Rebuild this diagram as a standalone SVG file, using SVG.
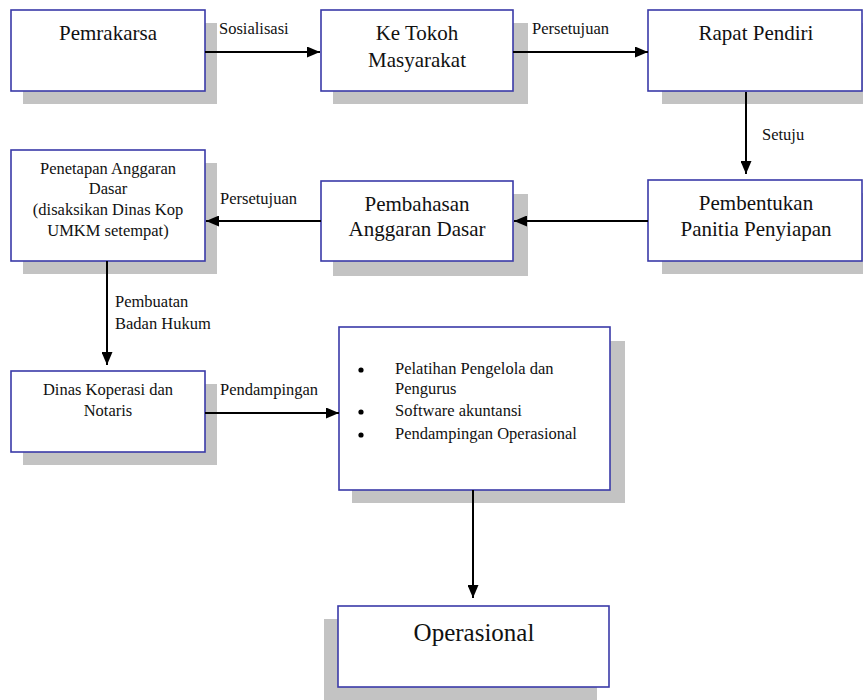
<svg xmlns="http://www.w3.org/2000/svg" width="863" height="700" viewBox="0 0 863 700" font-family="Liberation Serif, DejaVu Serif, serif">
<style>
.box{fill:#fff;stroke:#3a3aa8;stroke-width:1.6}
.sh{fill:#c3c3c3}
text{font-family:"Liberation Serif","DejaVu Serif",serif;fill:#111}
.t{text-anchor:middle}
.big{font-size:21px}
.sm{font-size:16.5px}
.lbl{font-size:16.5px}
.op{font-size:25px}
.c{stroke:#000;stroke-width:2;fill:none;marker-end:url(#ah)}
</style>
<defs>
<marker id="ah" markerUnits="userSpaceOnUse" markerWidth="13" markerHeight="11" refX="13" refY="5.5" orient="auto">
<path d="M0,0 L13,5.5 L0,11 z" fill="#000"/>
</marker>
</defs>
<rect width="863" height="700" fill="#fff"/>

<g id="pemrakarsa">
<rect class="sh" x="23" y="23" width="194" height="81"/>
<rect class="box" x="11" y="10" width="194" height="81"/>
<text class="t big" x="108" y="40">Pemrakarsa</text>
</g>

<g id="ke-tokoh">
<rect class="sh" x="333" y="23" width="195" height="81"/>
<rect class="box" x="321" y="10" width="192" height="81"/>
<text class="t big" x="417" y="40">Ke Tokoh</text>
<text class="t big" x="417" y="67">Masyarakat</text>
</g>

<g id="rapat-pendiri">
<rect class="sh" x="662" y="23" width="201" height="81"/>
<rect class="box" x="648" y="10" width="214" height="81"/>
<text class="t big" x="756" y="40">Rapat Pendiri</text>
</g>

<g id="pembentukan">
<rect class="sh" x="662" y="193" width="201" height="81"/>
<rect class="box" x="648" y="180" width="214" height="81"/>
<text class="t big" x="756" y="210">Pembentukan</text>
<text class="t big" x="756" y="236">Panitia Penyiapan</text>
</g>

<g id="pembahasan">
<rect class="sh" x="333" y="194" width="195" height="82"/>
<rect class="box" x="321" y="181" width="192" height="80"/>
<text class="t big" x="417" y="211">Pembahasan</text>
<text class="t big" x="417" y="236">Anggaran Dasar</text>
</g>

<g id="penetapan">
<rect class="sh" x="23" y="163" width="194" height="111"/>
<rect class="box" x="11" y="150" width="194" height="111"/>
<text class="t sm" x="108" y="174">Penetapan Anggaran</text>
<text class="t sm" x="108" y="194">Dasar</text>
<text class="t sm" x="108" y="215">(disaksikan Dinas Kop</text>
<text class="t sm" x="108" y="236">UMKM setempat)</text>
</g>

<g id="dinas">
<rect class="sh" x="23" y="384" width="194" height="81"/>
<rect class="box" x="11" y="371" width="194" height="81"/>
<text class="t sm" x="108" y="395">Dinas Koperasi dan</text>
<text class="t sm" x="108" y="416">Notaris</text>
</g>

<g id="layanan">
<rect class="sh" x="352" y="341" width="273" height="162"/>
<rect class="box" x="339" y="327" width="271" height="163"/>
<circle cx="361" cy="370" r="2.6" fill="#000"/>
<circle cx="361" cy="412" r="2.6" fill="#000"/>
<circle cx="361" cy="435" r="2.6" fill="#000"/>
<text class="lbl" x="395" y="374">Pelatihan Pengelola dan</text>
<text class="lbl" x="395" y="394">Pengurus</text>
<text class="lbl" x="395" y="416">Software akuntansi</text>
<text class="lbl" x="395" y="439">Pendampingan Operasional</text>
</g>

<g id="operasional">
<rect class="sh" x="324" y="619" width="273" height="81"/>
<rect class="box" x="338" y="606" width="271" height="81"/>
<text class="t op" x="474" y="641">Operasional</text>
</g>

<g id="connectors">
<path class="c" d="M205,52 H320"/>
<text class="lbl" x="219" y="34">Sosialisasi</text>
<path class="c" d="M513,52 H648"/>
<text class="lbl" x="532" y="34">Persetujuan</text>
<path class="c" d="M746,92 V174"/>
<text class="lbl" x="762" y="140">Setuju</text>
<path class="c" d="M648,221 H514"/>
<path class="c" d="M321,221 H206"/>
<text class="lbl" x="220" y="204">Persetujuan</text>
<path class="c" d="M107,261 V365"/>
<text class="lbl" x="115" y="307">Pembuatan</text>
<text class="lbl" x="115" y="329">Badan Hukum</text>
<path class="c" d="M205,413 H339"/>
<text class="lbl" x="220" y="395">Pendampingan</text>
<path class="c" d="M473,490 V598"/>
</g>
</svg>
